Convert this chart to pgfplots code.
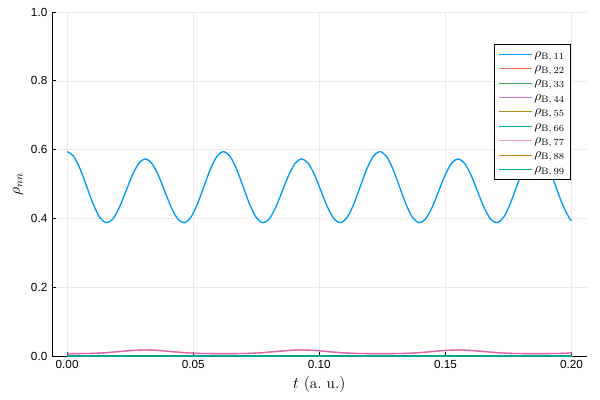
\documentclass[border=0pt]{standalone}
\usepackage{fontspec}
\setsansfont{Liberation Sans}
\usepackage{pgfplots}
\pgfplotsset{compat=1.18}
\usepackage{pgfplotstable}

% Plots.jl default palette
\definecolor{c1}{RGB}{0,154,250}
\definecolor{c2}{RGB}{227,111,71}
\definecolor{c3}{RGB}{62,164,78}
\definecolor{c4}{RGB}{195,113,210}
\definecolor{c5}{RGB}{172,142,24}
\definecolor{c6}{RGB}{0,170,174}
\definecolor{c7}{RGB}{237,94,147}
\definecolor{c8}{RGB}{198,130,37}
\definecolor{c9}{RGB}{0,169,141}

% rho_B,11
\pgfplotstableread{
t r
0 0.5940
0.002583 0.5805
0.005167 0.5436
0.00775 0.4929
0.010333 0.4418
0.012917 0.4034
0.0155 0.3875
0.018083 0.3979
0.020667 0.4313
0.02325 0.4781
0.025833 0.5254
0.028417 0.5602
0.031 0.5730
0.033583 0.5602
0.036167 0.5254
0.03875 0.4781
0.041333 0.4313
0.043917 0.3979
0.0465 0.3875
0.049083 0.4034
0.051667 0.4418
0.05425 0.4929
0.056833 0.5436
0.059417 0.5805
0.062 0.5940
0.064583 0.5805
0.067167 0.5436
0.06975 0.4929
0.072333 0.4418
0.074917 0.4034
0.0775 0.3875
0.080083 0.3979
0.082667 0.4313
0.08525 0.4781
0.087833 0.5254
0.090417 0.5602
0.093 0.5730
0.095583 0.5602
0.098167 0.5254
0.10075 0.4781
0.103333 0.4313
0.105917 0.3979
0.1085 0.3875
0.111083 0.4034
0.113667 0.4418
0.11625 0.4929
0.118833 0.5436
0.121417 0.5805
0.124 0.5940
0.126583 0.5805
0.129167 0.5436
0.13175 0.4929
0.134333 0.4418
0.136917 0.4034
0.1395 0.3875
0.142083 0.3979
0.144667 0.4313
0.14725 0.4781
0.149833 0.5254
0.152417 0.5602
0.155 0.5730
0.157583 0.5602
0.160167 0.5254
0.16275 0.4781
0.165333 0.4313
0.167917 0.3979
0.1705 0.3875
0.173083 0.4034
0.175667 0.4418
0.17825 0.4929
0.180833 0.5436
0.183417 0.5805
0.186 0.5940
0.188583 0.5805
0.191167 0.5436
0.19375 0.4929
0.196333 0.4418
0.198917 0.4034
0.2 0.3936
}\rhoaa

% rho_B,44 (rho_B,77 nearly the same)
\pgfplotstableread{
t r
0 0.0070
0.005167 0.0070
0.010333 0.0077
0.0155 0.0096
0.020667 0.0129
0.025833 0.0161
0.031 0.0175
0.036167 0.0161
0.041333 0.0129
0.0465 0.0096
0.051667 0.0077
0.056833 0.0070
0.062 0.0070
0.067167 0.0070
0.072333 0.0077
0.0775 0.0096
0.082667 0.0129
0.087833 0.0161
0.093 0.0175
0.098167 0.0161
0.103333 0.0129
0.1085 0.0096
0.113667 0.0077
0.118833 0.0070
0.124 0.0070
0.129167 0.0070
0.134333 0.0077
0.1395 0.0096
0.144667 0.0129
0.149833 0.0161
0.155 0.0175
0.160167 0.0161
0.165333 0.0129
0.1705 0.0096
0.175667 0.0077
0.180833 0.0070
0.186 0.0070
0.191167 0.0070
0.196333 0.0077
0.2 0.0089
}\rhodd

\begin{document}
\begin{tikzpicture}
\begin{axis}[
  at={(0,0)}, anchor=south west,
  scale only axis, width=401pt, height=258pt,
  xmin=-0.006, xmax=0.206, ymin=0, ymax=1,
  axis lines*=left,
  axis line style={black, line width=0.6pt},
  tick align=inside, major tick length=3pt,
  tick style={black, line width=0.6pt},
  xtick={0,0.05,0.1,0.15,0.2},
  ytick={0,0.2,0.4,0.6,0.8,1},
  scaled x ticks=false,
  x tick label style={/pgf/number format/.cd, fixed, fixed zerofill, precision=2},
  y tick label style={/pgf/number format/.cd, fixed, fixed zerofill, precision=1},
  /pgf/number format/assume math mode=true,
  tick label style={font=\sffamily\fontsize{8.8}{10}\selectfont, text=black},
  grid=major,
  major grid style={black!8, line width=0.4pt},
  xlabel={$t\ (\mathrm{a.\ u.})$},
  ylabel={$\rho_{nn}$},
  label style={font=\fontsize{11.5}{13}\selectfont},
  xlabel style={at={(axis description cs:0.5,-0.0814)}, anchor=center},
  ylabel style={at={(axis description cs:-0.0636,0.5)}, anchor=center},
  clip=false,
  every axis plot/.append style={line width=1pt, smooth},
  legend cell align=left,
  legend image code/.code={\draw[#1, line width=0.8pt, sharp plot] (0pt,0pt) -- (25pt,0pt);},
  legend style={at={(0.970,0.907)}, anchor=north east, draw=black,
    line width=0.6pt, font=\fontsize{10}{11}\selectfont,
    nodes={inner sep=1pt, text height=6.5pt, text depth=2.3pt},
    row sep=0pt, inner xsep=3pt, inner ysep=2pt},
]
\addplot[c1] table[x=t, y=r] {\rhoaa};
\addplot[c2] coordinates {(0,0.0004) (0.1,0.0004) (0.2,0.0004)};
\addplot[c3] coordinates {(0,0.0008) (0.1,0.0008) (0.2,0.0008)};
\addplot[c4] table[x=t, y=r] {\rhodd};
\addplot[c5] coordinates {(0,0) (0.1,0) (0.2,0)};
\addplot[c6] coordinates {(0,0) (0.1,0) (0.2,0)};
\addplot[c7, opacity=0.6] table[x=t, y=r] {\rhodd};
\addplot[c8] coordinates {(0,0) (0.1,0) (0.2,0)};
\addplot[c9] coordinates {(0,0.0002) (0.1,0.0002) (0.2,0.0002)};
\legend{$\rho_{\mathrm{B},\,11}$, $\rho_{\mathrm{B},\,22}$, $\rho_{\mathrm{B},\,33}$,
  $\rho_{\mathrm{B},\,44}$, $\rho_{\mathrm{B},\,55}$, $\rho_{\mathrm{B},\,66}$,
  $\rho_{\mathrm{B},\,77}$, $\rho_{\mathrm{B},\,88}$, $\rho_{\mathrm{B},\,99}$}
\end{axis}
\pgfresetboundingbox
\path (-39pt,-33pt) rectangle (411pt,267pt);
\end{tikzpicture}
\end{document}
